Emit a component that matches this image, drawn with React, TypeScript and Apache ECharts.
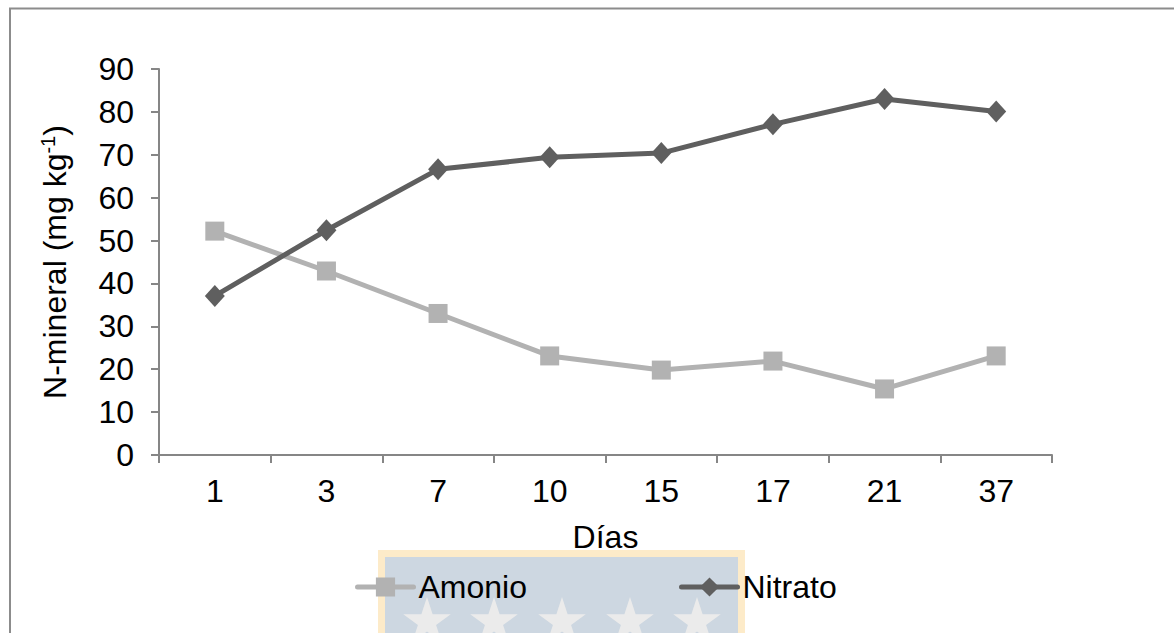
import React, { useEffect, useRef } from "react";
import * as echarts from "echarts";

// Sampling days and mineral nitrogen content (mg kg-1)
const dias = ["1", "3", "7", "10", "15", "17", "21", "37"];
const amonio = [52.2, 42.9, 33.0, 23.1, 19.8, 21.9, 15.4, 23.1];
const nitrato = [37.1, 52.4, 66.6, 69.4, 70.4, 77.1, 83.0, 80.1];
const yTicks = { min: 0, max: 90, interval: 10 };

const FONT = "Liberation Sans, Arial, sans-serif";
const FS = 32;
const AXIS_COLOR = "#868686";

// Five-pointed star outline around a centre
function starPoints(cx: number, cy: number, r: number): number[][] {
  const pts: number[][] = [];
  const inner = r * 0.382;
  for (let i = 0; i < 10; i++) {
    const rad = i % 2 === 0 ? r : inner;
    const a = -Math.PI / 2 + (i * Math.PI) / 5;
    pts.push([cx + rad * Math.cos(a), cy + rad * Math.sin(a)]);
  }
  return pts;
}

const starCentres = [427, 494, 562, 630, 697];

export default function App() {
  const ref = useRef<HTMLDivElement>(null);

  useEffect(() => {
    if (!ref.current) return;
    const chart = echarts.init(ref.current, undefined, { renderer: "svg" });

    const stars = starCentres.map((cx) => ({
      type: "polygon",
      z: -9,
      shape: { points: starPoints(cx, 622, 25) },
      style: { fill: "#ebebeb" },
      silent: true,
    }));

    chart.setOption({
      animation: false,
      backgroundColor: "#ffffff",
      textStyle: { fontFamily: FONT },
      grid: { left: 159, right: 122, top: 69, bottom: 178 },
      graphic: [
        {
          type: "polyline",
          z: -20,
          shape: { points: [[10, 650], [10, 8.5], [1190, 8.5]] },
          style: { stroke: "#8c8c8c", lineWidth: 2, fill: null },
          silent: true,
        },
        {
          type: "rect",
          z: -10,
          shape: { x: 381.5, y: 553.5, width: 360, height: 100 },
          style: { fill: "#cdd7e1", stroke: "#fdebc9", lineWidth: 7 },
          silent: true,
        },
        ...stars,
      ],
      legend: {
        left: 350,
        top: 566,
        itemWidth: 56,
        itemHeight: 24,
        itemGap: 152,
        lineStyle: { width: 5, cap: "round" },
        textStyle: { fontSize: FS, color: "#000", fontFamily: FONT },
        data: ["Amonio", "Nitrato"],
      },
      xAxis: {
        type: "category",
        data: dias,
        boundaryGap: true,
        name: "Días",
        nameLocation: "middle",
        nameGap: 66,
        nameTextStyle: { fontSize: FS, color: "#000", fontFamily: FONT },
        axisLine: { lineStyle: { color: AXIS_COLOR, width: 2 } },
        axisTick: { show: true, alignWithLabel: false, length: 8, lineStyle: { color: AXIS_COLOR, width: 2 } },
        axisLabel: { fontSize: FS, color: "#000", margin: 20, fontFamily: FONT },
        splitLine: { show: false },
      },
      yAxis: {
        type: "value",
        min: yTicks.min,
        max: yTicks.max,
        interval: yTicks.interval,
        name: "{a|N-mineral (mg kg}{s|-1}{a|)}",
        nameLocation: "middle",
        nameGap: 88,
        nameTextStyle: {
          fontSize: FS,
          color: "#000",
          fontFamily: FONT,
          rich: {
            a: { fontSize: FS, color: "#000", fontFamily: FONT },
            s: { fontSize: 20, color: "#000", fontFamily: FONT, padding: [0, 0, 13, 0] },
          },
        },
        axisLine: { show: true, lineStyle: { color: AXIS_COLOR, width: 2 } },
        axisTick: { show: true, length: 8, lineStyle: { color: AXIS_COLOR, width: 2 } },
        axisLabel: { fontSize: FS, color: "#000", margin: 25, fontFamily: FONT },
        splitLine: { show: false },
      },
      series: [
        {
          name: "Amonio",
          type: "line",
          data: amonio,
          symbol: "rect",
          symbolSize: 19,
          color: "#b2b2b2",
          lineStyle: { color: "#b2b2b2", width: 5 },
          itemStyle: { color: "#b2b2b2" },
          z: 2,
        },
        {
          name: "Nitrato",
          type: "line",
          data: nitrato,
          symbol: "diamond",
          symbolSize: [20, 22],
          color: "#5f5f5f",
          lineStyle: { color: "#5f5f5f", width: 5 },
          itemStyle: { color: "#5f5f5f" },
          z: 3,
        },
      ],
    });

    return () => chart.dispose();
  }, []);

  return (
    <div
      ref={ref}
      style={{ position: "absolute", left: 0, top: 0, width: 1174, height: 633 }}
    />
  );
}
